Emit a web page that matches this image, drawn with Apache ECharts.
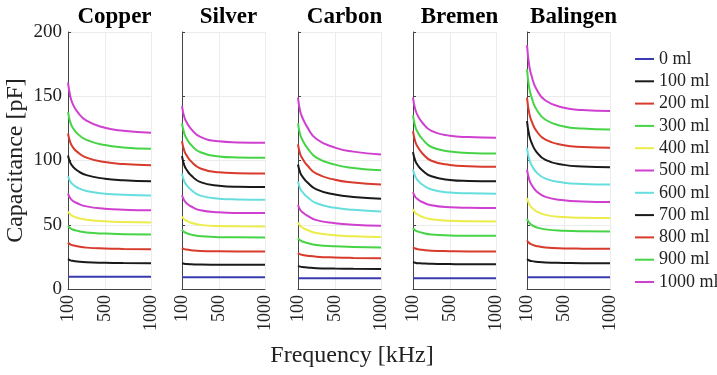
<!DOCTYPE html>
<html>
<head>
<meta charset="utf-8">
<script src="https://cdn.jsdelivr.net/npm/echarts@6/dist/echarts.min.js"></script>
<style>
  html, body { margin: 0; padding: 0; background: #fff; }
  #chart { width: 717px; height: 375px; }
</style>
</head>
<body>
<div id="chart"></div>
<script>
// frequency points (kHz)
const freqKHz = [100, 125, 150, 200, 300, 500, 700, 1000];
const volumes = ['0 ml', '100 ml', '200 ml', '300 ml', '400 ml', '500 ml', '600 ml', '700 ml', '800 ml', '900 ml', '1000 ml'];
const panelNames = ['Copper', 'Silver', 'Carbon', 'Bremen', 'Balingen'];
const xTicks = [100, 500, 1000];

// capacitance (pF), one row per volume, one column per frequency
const copper = [
  [9.6, 9.6, 9.6, 9.6, 9.6, 9.6, 9.6, 9.6],
  [23.2, 22.3, 21.9, 21.4, 20.8, 20.4, 20.2, 20.1],
  [36.2, 34.7, 34.0, 33.2, 32.2, 31.5, 31.2, 31.0],
  [49.2, 47.3, 46.3, 45.3, 44.0, 43.1, 42.7, 42.4],
  [60.4, 58.0, 56.8, 55.4, 53.9, 52.7, 52.1, 51.8],
  [74.2, 70.6, 68.7, 66.7, 64.3, 62.5, 61.7, 61.2],
  [87.8, 83.6, 81.5, 79.0, 76.3, 74.2, 73.3, 72.7],
  [103.9, 98.3, 95.5, 92.2, 88.6, 85.8, 84.6, 83.8],
  [121.0, 114.1, 110.6, 106.7, 102.2, 98.8, 97.3, 96.3],
  [137.7, 129.7, 125.7, 121.1, 116.0, 112.0, 110.2, 109.1],
  [160.7, 149.8, 144.3, 138.0, 131.0, 125.5, 123.2, 121.6]
];
const silver = [
  [9.1, 9.1, 9.1, 9.1, 9.1, 9.1, 9.1, 9.1],
  [20.1, 19.7, 19.5, 19.3, 19.0, 18.9, 18.8, 18.8],
  [31.8, 31.0, 30.7, 30.2, 29.6, 29.3, 29.2, 29.2],
  [46.1, 44.3, 43.5, 42.3, 41.1, 40.3, 40.2, 40.1],
  [56.5, 54.2, 53.1, 51.6, 49.9, 49.0, 48.8, 48.7],
  [72.9, 68.8, 66.8, 64.2, 61.3, 59.7, 59.2, 59.1],
  [89.8, 83.7, 80.9, 77.0, 72.7, 70.3, 69.7, 69.5],
  [103.4, 96.2, 92.8, 88.3, 83.2, 80.4, 79.6, 79.4],
  [115.1, 107.5, 104.0, 99.2, 93.8, 90.8, 90.1, 89.8],
  [128.9, 120.9, 117.1, 112.0, 106.4, 103.2, 102.4, 102.1],
  [142.4, 133.8, 129.8, 124.4, 118.4, 114.9, 114.1, 113.8]
];
const carbon = [
  [8.4, 8.4, 8.4, 8.4, 8.4, 8.4, 8.4, 8.4],
  [18.0, 17.4, 17.1, 16.8, 16.2, 15.9, 15.7, 15.6],
  [27.9, 26.9, 26.5, 25.9, 25.1, 24.5, 24.2, 24.0],
  [39.6, 37.8, 37.0, 35.8, 34.3, 33.2, 32.7, 32.3],
  [51.8, 49.0, 47.7, 45.9, 43.5, 41.8, 41.0, 40.4],
  [65.6, 61.5, 59.7, 57.1, 53.6, 51.2, 50.0, 49.2],
  [83.8, 77.9, 75.4, 71.6, 66.7, 63.2, 61.6, 60.4],
  [96.9, 90.3, 87.3, 83.1, 77.5, 73.5, 71.6, 70.3],
  [112.5, 104.7, 101.3, 96.3, 89.7, 85.0, 82.9, 81.3],
  [128.9, 119.8, 115.8, 109.9, 102.3, 96.8, 94.2, 92.4],
  [149.0, 137.9, 133.1, 126.0, 116.7, 110.0, 106.9, 104.7]
];
const bremen = [
  [8.4, 8.4, 8.4, 8.4, 8.4, 8.4, 8.4, 8.4],
  [20.8, 20.4, 20.1, 19.9, 19.6, 19.4, 19.3, 19.3],
  [32.5, 31.5, 31.0, 30.5, 29.8, 29.4, 29.2, 29.2],
  [47.4, 45.6, 44.8, 43.7, 42.4, 41.7, 41.5, 41.4],
  [62.2, 59.3, 58.0, 56.2, 54.2, 53.1, 52.7, 52.6],
  [75.3, 71.6, 69.9, 67.7, 65.1, 63.6, 63.2, 63.0],
  [93.0, 87.4, 84.7, 81.3, 77.4, 75.1, 74.5, 74.2],
  [106.5, 99.7, 96.5, 92.4, 87.7, 84.9, 84.1, 83.8],
  [122.9, 114.6, 110.7, 105.7, 99.8, 96.5, 95.5, 95.1],
  [135.2, 126.3, 122.1, 116.8, 110.5, 107.0, 105.9, 105.5],
  [149.0, 139.6, 135.2, 129.6, 123.0, 119.3, 118.2, 117.7]
];
const balingen = [
  [9.1, 9.1, 9.1, 9.1, 9.1, 9.1, 9.1, 9.1],
  [23.2, 22.2, 21.7, 21.2, 20.6, 20.3, 20.1, 20.1],
  [37.8, 35.7, 34.7, 33.5, 32.3, 31.6, 31.4, 31.3],
  [54.5, 51.4, 49.9, 48.1, 46.4, 45.3, 44.9, 44.8],
  [70.9, 65.9, 63.5, 60.5, 57.7, 56.0, 55.4, 55.2],
  [93.0, 84.9, 81.1, 76.3, 71.7, 69.0, 68.1, 67.7],
  [109.9, 100.7, 96.5, 91.0, 85.9, 82.7, 81.7, 81.3],
  [130.7, 119.2, 113.8, 107.0, 100.5, 96.6, 95.3, 94.8],
  [149.0, 136.5, 130.6, 123.2, 116.2, 111.9, 110.5, 109.9],
  [171.1, 156.1, 149.1, 140.1, 131.7, 126.5, 124.9, 124.2],
  [189.8, 173.4, 165.7, 155.9, 146.7, 141.1, 139.3, 138.5]
];
const panels = [copper, silver, carbon, bremen, balingen];

const colors = ['#3b3bb0', '#1a1a1a', '#d83a2c', '#46d446', '#ecec4a', '#d040d0',
                '#66dede', '#1a1a1a', '#d83a2c', '#46d446', '#d040d0'];

const serif = '"Liberation Serif", "DejaVu Serif", serif';
const gridLefts = [68, 182, 298, 413, 527];
const gridW = 83;
const gridTop = 32;
const gridH = 257;

const chart = echarts.init(document.getElementById('chart'));

const grids = [], xAxes = [], yAxes = [], titles = [], series = [];

gridLefts.forEach((left, p) => {
  grids.push({ left: left, top: gridTop, width: gridW, height: gridH });
  titles.push({
    text: panelNames[p],
    left: left + gridW / 2,
    textAlign: 'center',
    top: 1,
    textStyle: { fontFamily: serif, fontWeight: 'bold', fontSize: 23, color: '#000' }
  });
  xAxes.push({
    gridIndex: p,
    type: 'value',
    min: 100,
    max: 1000,
    axisLine: { lineStyle: { color: '#444', width: 1 } },
    axisTick: { inside: true, length: 3, customValues: xTicks, lineStyle: { color: '#444' } },
    axisLabel: {
      customValues: xTicks,
      formatter: v => String(v),
      rotate: 90,
      margin: 6,
      fontFamily: serif,
      fontSize: 18,
      color: '#222'
    },
    splitLine: { show: false }
  });
  yAxes.push({
    gridIndex: p,
    type: 'value',
    min: 0,
    max: 200,
    interval: 50,
    name: p === 0 ? 'Capacitance [pF]' : '',
    nameLocation: 'middle',
    nameGap: 40,
    nameTextStyle: { fontFamily: serif, fontSize: 24, color: '#222' },
    axisLine: { show: true, lineStyle: { color: '#444', width: 1 } },
    axisTick: { show: true, inside: true, length: 3, lineStyle: { color: '#444' } },
    axisLabel: { show: p === 0, fontFamily: serif, fontSize: 19, color: '#222', margin: 6 },
    splitLine: { lineStyle: { color: '#ececec', width: 1 } }
  });

  panels[p].forEach((row, i) => {
    const s = {
      name: volumes[i],
      type: 'line',
      xAxisIndex: p,
      yAxisIndex: p,
      data: freqKHz.map((f, k) => [f, row[k]]),
      showSymbol: false,
      smooth: 0.5,
      lineStyle: { width: 2, color: colors[i] },
      itemStyle: { color: colors[i] },
      z: 3 + i
    };
    if (i === 0) {
      // light vertical grid lines
      s.markLine = {
        silent: true,
        symbol: 'none',
        label: { show: false },
        lineStyle: { color: '#ececec', type: 'solid', width: 1 },
        data: [{ xAxis: 500 }, { xAxis: 1000 }],
        z: 1
      };
    }
    series.push(s);
  });
});

chart.setOption({
  backgroundColor: '#fff',
  animation: false,
  title: titles,
  grid: grids,
  xAxis: xAxes,
  yAxis: yAxes,
  legend: {
    data: volumes,
    orient: 'vertical',
    left: 630,
    top: 45,
    icon: 'rect',
    itemWidth: 19,
    itemHeight: 2,
    itemGap: 4.3,
    textStyle: { fontFamily: serif, fontSize: 18, lineHeight: 18, color: '#222' }
  },
  graphic: [{
    type: 'text',
    x: 352,
    y: 356,
    style: {
      text: 'Frequency [kHz]',
      font: '24px ' + serif,
      fill: '#222',
      align: 'center',
      verticalAlign: 'middle'
    }
  }],
  series: series
});
</script>
</body>
</html>
